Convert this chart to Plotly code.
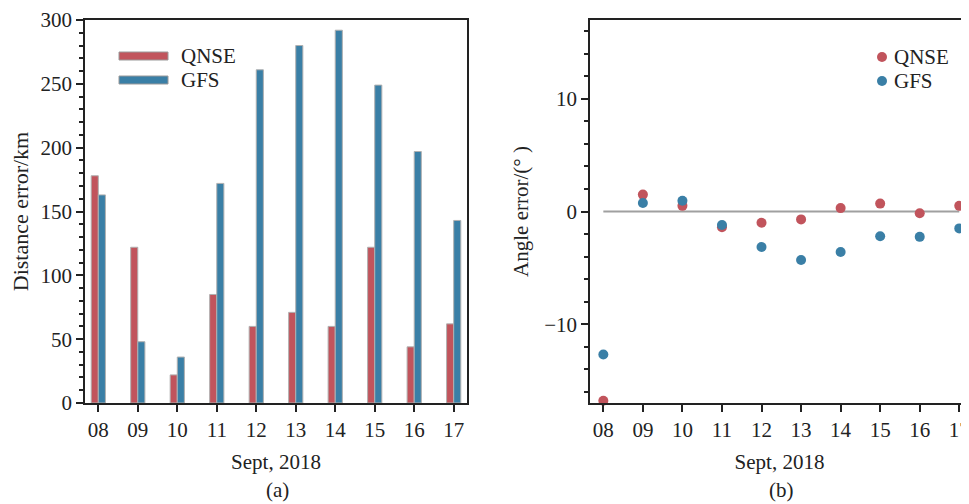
import plotly.graph_objects as go

days = ["08", "09", "10", "11", "12", "13", "14", "15", "16", "17"]
dist_qnse = [178, 122, 22, 85, 60, 71, 60, 122, 44, 62]
dist_gfs = [163, 48, 36, 172, 261, 280, 292, 249, 197, 143]
ang_qnse = [-16.8, 1.5, 0.5, -1.4, -1.0, -0.7, 0.3, 0.7, -0.15, 0.5]
ang_gfs = [-12.7, 0.75, 0.95, -1.2, -3.15, -4.3, -3.6, -2.2, -2.25, -1.5]

RED = "#c1545c"
BLUE = "#3a7fa6"
FONT = "Liberation Serif"
AX = "#222222"
OFF = 8  # page body margin
W, H = 969 - OFF, 504 - OFF
MT = 20 - OFF
MB = H - (403 - OFF)
PH = H - MT - MB


def px(x):
    return (x - OFF) / W


def py(y):
    return (H - MB - (y - OFF)) / PH


fig = go.Figure()
fig.add_trace(go.Bar(x=days, y=dist_qnse, name="QNSE", marker=dict(color=RED, line=dict(color="#b0b0b0", width=1)),
                     width=0.18, offset=-0.18, xaxis="x", yaxis="y", showlegend=False))
fig.add_trace(go.Bar(x=days, y=dist_gfs, name="GFS", marker=dict(color=BLUE, line=dict(color="#b0b0b0", width=1)),
                     width=0.18, offset=0.0, xaxis="x", yaxis="y", showlegend=False))

fig.add_trace(go.Scatter(x=days, y=[0] * len(days), mode="lines", line=dict(color="#a0a0a0", width=2),
                         xaxis="x2", yaxis="y2", showlegend=False, hoverinfo="skip"))
fig.add_trace(go.Scatter(x=days, y=ang_qnse, mode="markers", name="QNSE", marker=dict(color=RED, size=10),
                         xaxis="x2", yaxis="y2", cliponaxis=False, showlegend=False))
fig.add_trace(go.Scatter(x=days, y=ang_gfs, mode="markers", name="GFS", marker=dict(color=BLUE, size=10),
                         xaxis="x2", yaxis="y2", cliponaxis=False, showlegend=False))

tickfont = dict(family=FONT, size=21, color=AX)
common_x = dict(type="category", showline=True, linecolor=AX, linewidth=1.5, ticks="outside", ticklen=7,
                tickwidth=1.5, tickcolor=AX, tickfont=tickfont, showgrid=False, zeroline=False, automargin=False,
                title=dict(text="Sept, 2018", font=dict(family=FONT, size=21, color=AX), standoff=13))
common_y = dict(showline=True, linecolor=AX, linewidth=1.5, ticks="outside", ticklen=7, tickwidth=1.5,
                tickcolor=AX, tickfont=tickfont, showgrid=False, zeroline=False, automargin=False)

x1d = [px(85), px(467)]
x2d = [px(590), 1.0]
fig.update_layout(
    width=W, height=H, plot_bgcolor="white", paper_bgcolor="white",
    margin=dict(l=0, r=0, t=MT, b=MB), barmode="overlay",
    xaxis=dict(common_x, domain=x1d, range=[-0.337, 9.337], mirror=True, anchor="y"),
    yaxis=dict(common_y, range=[0, 300], dtick=50, mirror=True, anchor="x",
               minor=dict(dtick=10, ticks="outside", ticklen=4, tickwidth=1.5, tickcolor=AX),
               title=dict(text="Distance error/km", font=dict(family=FONT, size=22, color=AX), standoff=22)),
    xaxis2=dict(common_x, domain=x2d, range=[-0.337, 9.246], mirror=True, anchor="y2"),
    yaxis2=dict(common_y, range=[-17, 17], dtick=10, mirror=False, anchor="x2",
                minor=dict(dtick=2, ticks="outside", ticklen=4, tickwidth=1.5, tickcolor=AX),
                title=dict(text="Angle error/(° )", font=dict(family=FONT, size=21, color=AX), standoff=10)),
)

# panel (a) legend
leg_a = [("QNSE", RED, 56), ("GFS", BLUE, 80)]
for name, col, yc in leg_a:
    fig.add_shape(type="rect", xref="paper", yref="paper", x0=px(119), x1=px(168), y0=py(yc + 4), y1=py(yc - 4),
                  fillcolor=col, line=dict(color="#9a9a9a", width=1))
    fig.add_annotation(text=name, xref="paper", yref="paper", x=px(179), y=py(yc), xanchor="left", yanchor="middle",
                       showarrow=False, font=dict(family=FONT, size=21, color=AX))
# panel (b) legend
leg_b = [("QNSE", RED, 57), ("GFS", BLUE, 81)]
for name, col, yc in leg_b:
    fig.add_shape(type="circle", xref="paper", yref="paper", xsizemode="pixel", ysizemode="pixel",
                  xanchor=px(882), yanchor=py(yc), x0=-5, x1=5, y0=-5, y1=5, fillcolor=col, line=dict(width=0))
    fig.add_annotation(text=name, xref="paper", yref="paper", x=px(892), y=py(yc), xanchor="left", yanchor="middle",
                       showarrow=False, font=dict(family=FONT, size=21, color=AX))

for lab, xc in [("(a)", 277), ("(b)", 781)]:
    fig.add_annotation(text=lab, xref="paper", yref="paper", x=px(xc), y=py(490), xanchor="center", yanchor="middle",
                       showarrow=False, font=dict(family=FONT, size=21, color=AX))

fig.write_html("out.html")
